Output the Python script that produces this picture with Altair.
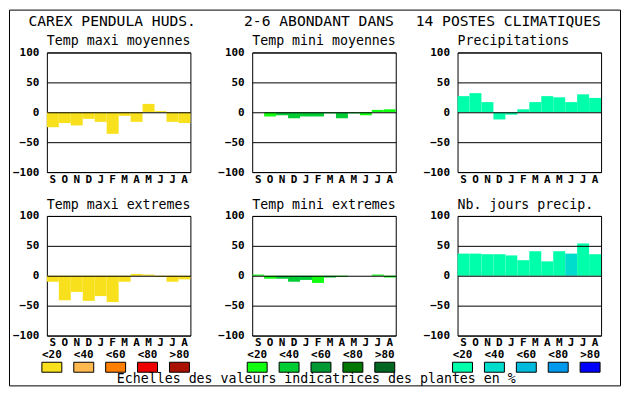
import altair as alt
import pandas as pd

MONTHS = ["S", "O", "N", "D", "J", "F", "M", "A", "M", "J", "J", "A"]
HEADER = ["CAREX PENDULA HUDS.", "2-6 ABONDANT DANS", "14 POSTES CLIMATIQUES"]
TITLES = ["Temp maxi moyennes", "Temp mini moyennes", "Precipitations",
          "Temp maxi extremes", "Temp mini extremes", "Nb. jours precip."]
FOOTER = "Echelles des valeurs indicatrices des plantes en %"
LEGEND_LABELS = ["<20", "<40", "<60", "<80", ">80"]
Y_TICKS = [-100, -50, 0, 50, 100]

# values
tmax_moy = [-25, -18, -22, -11, -16, -36, -6, -16, 14, 2, -16, -18]
tmin_moy = [0, -7, -5, -10, -7, -7, -2, -10, -2, -5, 4, 5]
precip = [27, 32, 17, -12, -4, 5, 17, 27, 25, 17, 30, 24]
tmax_ext = [-10, -41, -27, -42, -34, -44, -10, 3, 2, -2, -10, -6]
tmin_ext = [2, -5, -5, -10, -7, -12, -3, -2, 0, 0, 2, -3]
nb_jours = [37, 37, 36, 36, 34, 26, 41, 24, 41, 37, 54, 36]

# class of indicator value (index into palette)
cls_tmax_moy = [0] * 12
cls_tmin_moy = [0, 0, 1, 1, 1, 1, 1, 1, 1, 0, 0, 0]
cls_precip = [0] * 12
cls_tmax_ext = [0] * 12
cls_tmin_ext = [0, 0, 1, 1, 1, 0, 1, 0, 0, 0, 0, 0]
cls_nb_jours = [0, 0, 0, 0, 0, 0, 0, 0, 0, 1, 0, 0]

WARM = ["#F8E11C", "#FFB94F", "#FF7F00", "#EE0000", "#AA1100"]
GREEN = ["#11FF11", "#00CC33", "#009933", "#007700", "#006622"]
BLUE = ["#00FFAA", "#00DDCC", "#00BBDD", "#0099EE", "#0000FF"]

MONO = "DejaVu Sans Mono"
W, H = 144, 120

month_expr = "[" + ",".join("'%s'" % m for m in MONTHS) + "][datum.value]"


def panel(title, values, classes, palette, extra=None):
    df = pd.DataFrame({
        "i": list(range(len(values))),
        "v": values,
        "c": [palette[k] for k in classes],
    })
    bars = alt.Chart(df).mark_bar().encode(
        x=alt.X("i:O", scale=alt.Scale(paddingInner=0, paddingOuter=0),
                axis=alt.Axis(labelExpr=month_expr, title=None, domain=False,
                              ticks=False, labelAngle=0, labelPadding=1,
                              labelFont=MONO, labelFontSize=11,
                              labelFontWeight="bold", labelColor="black",
                              grid=False)),
        y=alt.Y("v:Q", scale=alt.Scale(domain=[-100, 100], nice=False),
                axis=alt.Axis(values=Y_TICKS, format="d", title=None,
                              domain=False, ticks=False, labelPadding=8,
                              labelFont=MONO, labelFontSize=11,
                              labelFontWeight="bold", labelColor="black",
                              grid=True, gridColor="black", gridOpacity=1,
                              gridWidth=1, zindex=1)),
        color=alt.Color("c:N", scale=None),
    )
    ttl = alt.Chart(pd.DataFrame({"t": [title]})).mark_text(
        align="left", baseline="alphabetic", font=MONO, fontSize=13.3,
        color="black"
    ).encode(x=alt.value(0), y=alt.value(-7), text="t:N")
    layers = [bars, ttl]
    if extra:
        layers += extra
    return alt.layer(*layers).properties(
        width=W, height=H,
        view=alt.ViewBackground(stroke="black", strokeWidth=1),
    )


# header + frame (drawn from the first panel)
hdr_x = [-18.5, 197.8, 370]
header_layers = []
for txt, hx in zip(HEADER, hdr_x):
    header_layers.append(
        alt.Chart(pd.DataFrame({"t": [txt]})).mark_text(
            align="left", baseline="alphabetic", font=MONO, fontSize=14.7,
            color="black"
        ).encode(x=alt.value(hx), y=alt.value(-26.5), text="t:N")
    )
frame = alt.Chart(pd.DataFrame({"a": [0]})).mark_rect(
    fill="transparent", stroke="black", strokeWidth=1
).encode(x=alt.value(-37.5), x2=alt.value(575.5),
         y=alt.value(-42.5), y2=alt.value(334.5))
header_layers.append(frame)

p1 = panel(TITLES[0], tmax_moy, cls_tmax_moy, WARM, header_layers)
p2 = panel(TITLES[1], tmin_moy, cls_tmin_moy, GREEN)
p3 = panel(TITLES[2], precip, cls_precip, BLUE)
p4 = panel(TITLES[3], tmax_ext, cls_tmax_ext, WARM)
p5 = panel(TITLES[4], tmin_ext, cls_tmin_ext, GREEN)
p6 = panel(TITLES[5], nb_jours, cls_nb_jours, BLUE)


def legend(palette, footer=False):
    df = pd.DataFrame({"k": list(range(5)), "lab": LEGEND_LABELS, "c": palette})
    xenc = alt.X("k:O", scale=alt.Scale(range=[-11, 149], paddingInner=0,
                                         paddingOuter=0), axis=None)
    boxes = alt.Chart(df).mark_bar(size=20, stroke="black", strokeWidth=1).encode(
        x=xenc, y=alt.value(-17.2), y2=alt.value(-7.2),
        color=alt.Color("c:N", scale=None))
    labs = alt.Chart(df).mark_text(
        align="center", baseline="middle", font=MONO, fontSize=11,
        fontWeight="bold", color="black"
    ).encode(x=xenc, y=alt.value(-24), text="lab:N")
    layers = [boxes, labs]
    if footer:
        layers.append(
            alt.Chart(pd.DataFrame({"t": [FOOTER]})).mark_text(
                align="left", baseline="alphabetic", font=MONO, fontSize=13.3,
                color="black"
            ).encode(x=alt.value(70.2), y=alt.value(4), text="t:N")
        )
    return alt.layer(*layers).properties(
        width=W, height=2,
        view=alt.ViewBackground(stroke="transparent"),
    )


row1 = alt.hconcat(p1, p2, p3, spacing=62, bounds="flush")
row2 = alt.hconcat(p4, p5, p6, spacing=62, bounds="flush")
row3 = alt.hconcat(legend(WARM, True), legend(GREEN), legend(BLUE),
                   spacing=62, bounds="flush")

# nested concat rows count as zero height in flush layout: spacing = row stride
chart = alt.vconcat(row1, row2, row3, spacing=164, bounds="flush").properties(
    padding=0, background="white"
).configure_view(stroke="transparent")

chart.save("out.html", embed_options={"renderer": "svg", "actions": False})
